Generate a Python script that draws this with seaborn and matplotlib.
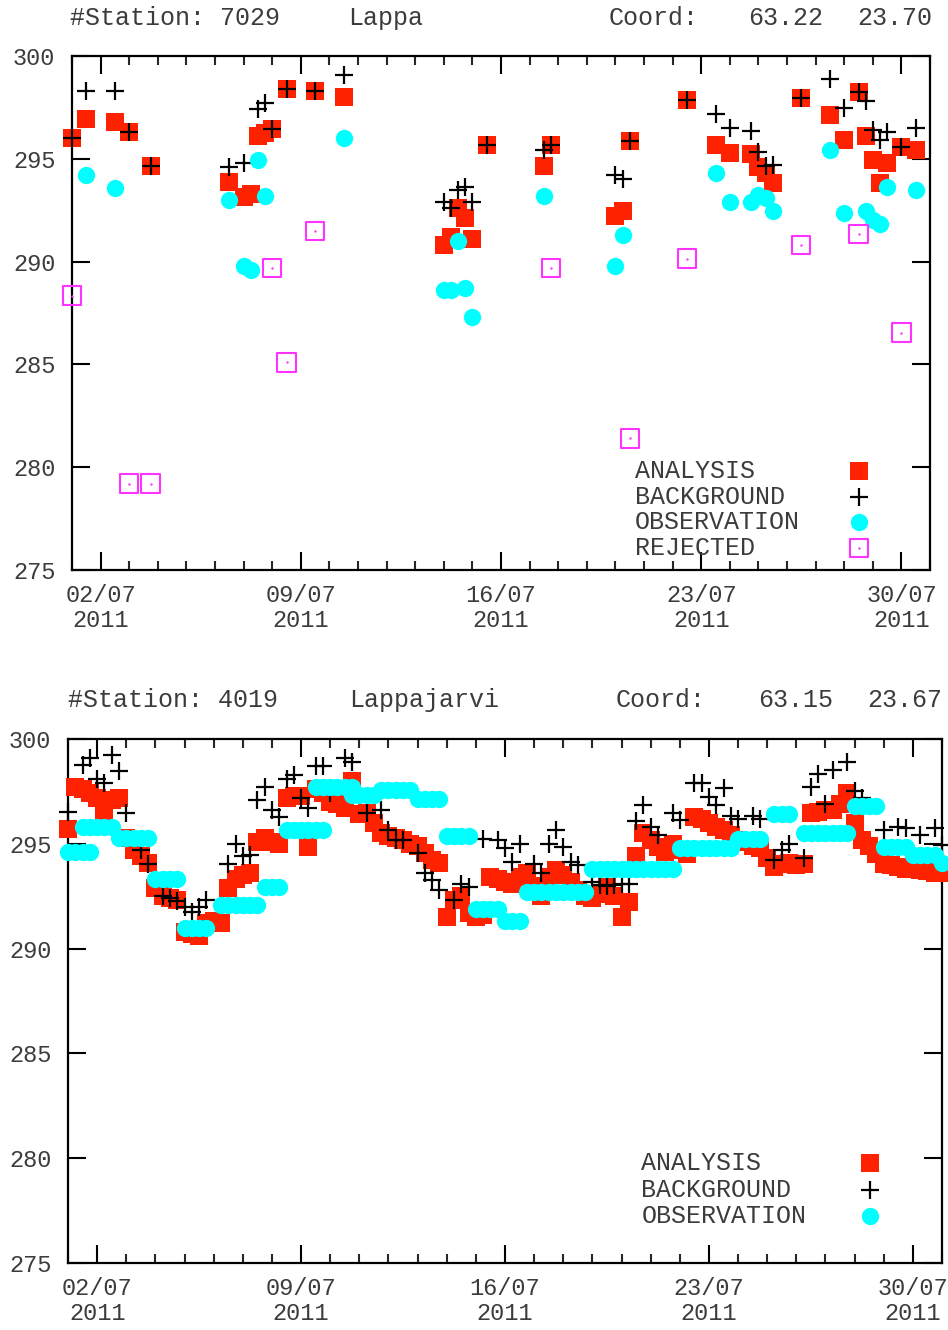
import numpy as np
import pandas as pd
import matplotlib
matplotlib.use("Agg")
import matplotlib.pyplot as plt
import matplotlib.dates as mdates
import seaborn as sns

# ---------------- data (hours since 2011-07-01 00:00, temperature K) -------------
top_ana_h = [0, 12, 36, 48, 66, 132, 144, 150, 156, 162, 168, 180, 204, 228,
             312, 318, 324, 330, 336, 348, 396, 402, 456, 462, 468, 516,
             540, 552, 570, 576, 582, 588, 612, 636, 648, 660, 666, 672, 678, 684, 696, 708]
top_ana_v = [296.0, 296.95, 296.8, 296.3, 294.65, 293.85, 293.15, 293.3, 296.1, 296.25, 296.45, 298.4, 298.3, 298.0,
             290.8, 291.2, 292.6, 292.1, 291.1, 295.65, 294.65, 295.65, 292.2, 292.45, 295.85, 297.85,
             295.65, 295.3, 295.25, 294.6, 294.3, 293.8, 297.95, 297.15, 295.9, 298.25, 296.1, 294.95, 293.8, 294.8, 295.55, 295.45]

top_bg_h = [0, 12, 36, 48, 66, 132, 144, 156, 162, 168, 180, 204, 228,
            312, 318, 324, 330, 336, 348, 396, 402, 456, 462, 468, 516,
            540, 552, 570, 576, 582, 588, 612, 636, 648, 660, 666, 672, 678, 684, 696, 708]
top_bg_v = [296.0, 298.3, 298.3, 296.3, 294.65, 294.6, 294.8, 297.4, 297.7, 296.45, 298.4, 298.3, 299.1,
            292.9, 292.6, 293.5, 293.65, 292.9, 295.65, 295.45, 295.65, 294.2, 294.0, 295.85, 297.85,
            297.2, 296.5, 296.35, 295.35, 294.65, 294.7, 297.95, 298.9, 297.45, 298.25, 297.8, 296.4, 295.9, 296.3, 295.55, 296.5]

top_obs_h = [12, 36, 132, 144, 150, 156, 162, 228, 312, 318, 324, 330, 336, 396, 456, 462,
             540, 552, 570, 576, 582, 588, 636, 648, 666, 672, 678, 684, 708]
top_obs_v = [294.2, 293.6, 293.0, 289.8, 289.6, 294.95, 293.2, 296.0, 288.6, 288.6, 291.0, 288.7, 287.3, 293.2, 289.8, 291.3,
             294.3, 292.9, 292.9, 293.25, 293.1, 292.45, 295.45, 292.35, 292.45, 292.0, 291.85, 293.65, 293.5]

top_rej_h = [0, 48, 66, 168, 180, 204, 402, 468, 516, 612, 660, 696]
top_rej_v = [288.35, 279.2, 279.2, 289.7, 285.1, 291.5, 289.7, 281.4, 290.15, 290.8, 291.35, 286.55]

bot_ana_h = list(range(0, 721, 6))
bot_ana_v = [295.7, 297.7, 297.6, 297.4, 297.2, 296.45, 297.1, 297.2,
             295.3, 294.7, 294.4, 294.1, 292.9, 292.5, 292.4, 292.3,
             290.8, 290.7, 290.6, 291.2, 291.3, 291.2, 292.9, 293.3,
             293.5, 293.6, 295.1, 295.3, 295.1, 295.0, 297.2, 297.3,
             297.3, 294.85, 297.6, 297.4, 297.0, 296.9, 296.7, 298.0,
             296.4, 296.45, 296.0, 295.5, 295.35, 295.3, 295.2, 295.0,
             294.9, 294.55, 294.25, 294.1, 291.5, 292.3, 292.5, 291.7,
             291.5, 291.6, 293.4, 293.3, 293.2, 293.1, 293.4, 293.6,
             293.0, 292.5, 293.4, 293.75, 293.5, 293.2, 292.8, 292.5,
             292.4, 292.6, 292.95, 292.5, 291.5, 292.2, 294.4, 295.5,
             295.2, 294.85, 294.6, 295.0, 294.7, 294.5, 296.3, 296.2,
             296.0, 295.8, 295.65, 295.4, 295.2, 295.1, 294.9, 294.8,
             294.3, 293.9, 294.05, 294.1, 294.0, 294.05, 296.45, 296.5,
             296.6, 296.6, 296.9, 297.4, 296.0, 295.2, 294.9, 294.5,
             294.05, 294.0, 293.9, 293.8, 293.9, 293.75, 293.7, 293.6, 293.6]

bot_bg_h = [0, 12, 18, 24, 30, 36, 42, 48, 60, 66, 78, 84, 90, 96, 102, 108, 114,
            132, 138, 144, 150, 156, 162, 168, 174, 180, 186, 192, 198, 204, 210, 216,
            228, 234, 246, 258, 264, 270, 276, 288, 294, 300, 306, 318, 324, 330,
            342, 354, 360, 366, 372, 384, 390, 396, 402, 408, 414, 420, 432, 438, 444,
            450, 456, 462, 468, 474, 480, 486, 498, 504, 516, 522, 528, 534, 540, 546,
            552, 564, 570, 582, 588, 594, 606, 612, 618, 624, 630, 642, 648, 654,
            672, 684, 690, 702, 714, 720]
bot_bg_v = [296.5, 298.75, 299.1, 298.1, 297.9, 299.25, 298.45, 296.45, 294.7, 294.05, 292.5, 292.4, 292.25, 292.0, 291.75, 292.0, 292.3,
            294.05, 295.0, 294.4, 294.45, 297.1, 297.7, 296.6, 296.3, 298.1, 298.3, 297.2, 296.7, 298.7, 298.7, 297.4,
            299.1, 298.9, 296.45, 296.6, 295.65, 295.2, 295.2, 294.55, 293.6, 293.25, 292.8, 292.3, 293.1, 292.95,
            295.25, 295.2, 294.8, 294.15, 295.0, 294.05, 293.6, 295.0, 295.65, 294.85, 294.15, 294.0, 293.2, 293.05, 293.0,
            293.05, 293.1, 293.1, 296.1, 296.85, 295.8, 295.4, 296.45, 296.15, 297.9, 297.9, 297.25, 296.85, 297.65, 296.35,
            296.2, 296.35, 296.2, 294.25, 294.7, 295.0, 294.3, 297.7, 298.35, 296.9, 298.5, 298.9, 297.5, 297.2,
            295.65, 295.8, 295.75, 295.4, 295.75, 294.95]

bot_obs_h = [0, 6, 12, 18,
             12, 18, 24, 30, 36,
             42, 48, 54, 60, 66,
             72, 78, 84, 90,
             96, 102, 108, 114,
             126, 132, 138, 144, 150, 156,
             162, 168, 174,
             180, 186, 192, 198, 204, 210,
             204, 210, 216, 222, 228, 234,
             234, 240, 246, 252,
             258, 264, 270, 276, 282,
             288, 294, 300, 306,
             312, 318, 324, 330,
             336, 342, 348, 354,
             360, 366, 372,
             378, 384, 390, 396, 402, 408, 414, 420, 426,
             432, 438, 444, 450, 456, 462, 468, 474, 480, 486, 492, 498,
             504, 510, 516, 522, 528, 534, 540, 546,
             552, 558, 564, 570,
             582, 588, 594,
             606, 612, 618, 624, 630, 636, 642,
             648, 654, 660, 666,
             672, 678, 684, 690,
             696, 702, 708, 714,
             720]
bot_obs_v = [294.6, 294.6, 294.6, 294.6,
             295.8, 295.8, 295.8, 295.8, 295.8,
             295.3, 295.3, 295.3, 295.3, 295.3,
             293.3, 293.3, 293.3, 293.3,
             291.0, 291.0, 291.0, 291.0,
             292.1, 292.1, 292.1, 292.1, 292.1, 292.1,
             292.95, 292.95, 292.95,
             295.65, 295.65, 295.65, 295.65, 295.65, 295.65,
             297.7, 297.7, 297.7, 297.7, 297.7, 297.7,
             297.35, 297.35, 297.35, 297.35,
             297.55, 297.55, 297.55, 297.55, 297.55,
             297.15, 297.15, 297.15, 297.15,
             295.35, 295.35, 295.35, 295.35,
             291.9, 291.9, 291.9, 291.9,
             291.3, 291.3, 291.3,
             292.7, 292.7, 292.7, 292.7, 292.7, 292.7, 292.7, 292.7, 292.7,
             293.8, 293.8, 293.8, 293.8, 293.8, 293.8, 293.8, 293.8, 293.8, 293.8, 293.8, 293.8,
             294.8, 294.8, 294.8, 294.8, 294.8, 294.8, 294.8, 294.8,
             295.25, 295.25, 295.25, 295.25,
             296.4, 296.4, 296.4,
             295.5, 295.5, 295.5, 295.5, 295.5, 295.5, 295.5,
             296.8, 296.8, 296.8, 296.8,
             294.85, 294.85, 294.85, 294.85,
             294.45, 294.45, 294.45, 294.45,
             294.1]

stations = [("#Station: 7029", "Lappa", "Coord:", "63.22", "23.70"),
            ("#Station: 4019", "Lappajarvi", "Coord:", "63.15", "23.67")]
legend_labels = ["ANALYSIS", "BACKGROUND", "OBSERVATION", "REJECTED"]
y_ticks = [275, 280, 285, 290, 295, 300]

# ---------------- style -------------
RED = "#ff2200"
CYAN = "#00ffff"
MAG = "#ff33ff"
TXT = "#3c3c3c"

sns.set_style("white")
plt.rcParams['font.family'] = ['Liberation Mono', 'DejaVu Sans Mono']

BASE = pd.Timestamp("2011-07-01")


def to_time(hours):
    return BASE + pd.to_timedelta(np.asarray(hours, dtype=float), unit="h")


fig = plt.figure(figsize=(9.48, 13.3), dpi=100)
W, H = 948.0, 1330.0
ax1 = fig.add_axes([72 / W, 1 - 570 / H, 858 / W, 514 / H])
ax2 = fig.add_axes([68 / W, 1 - 1263 / H, 874 / W, 524 / H])

S_SQ, S_CI, S_PL = 175, 155, 155


def draw(ax, ana_h, ana_v, bg_h, bg_v, obs_h, obs_v, rej_h=None, rej_v=None):
    sns.scatterplot(x=to_time(ana_h), y=ana_v, ax=ax, marker="s", s=S_SQ,
                    color=RED, linewidth=0, zorder=3, clip_on=False)
    sns.scatterplot(x=to_time(bg_h), y=bg_v, ax=ax, marker="+", s=S_PL,
                    color="black", linewidth=1.6, zorder=4, clip_on=False)
    sns.scatterplot(x=to_time(obs_h), y=obs_v, ax=ax, marker="o", s=S_CI,
                    color=CYAN, linewidth=0, zorder=5, clip_on=False)
    if rej_h is not None:
        sns.scatterplot(x=to_time(rej_h), y=rej_v, ax=ax, marker="s", s=S_SQ,
                        color=MAG, facecolor="none", edgecolor=MAG, linewidth=1.5,
                        zorder=6, clip_on=False)
        sns.scatterplot(x=to_time(rej_h), y=rej_v, ax=ax, marker="o", s=3,
                        color=MAG, linewidth=0, zorder=6, clip_on=False)


def style_axes(ax):
    ax.set_xlim(pd.Timestamp("2011-07-01"), pd.Timestamp("2011-07-31"))
    ax.set_ylim(275, 300)
    ax.set_yticks(y_ticks)
    ax.xaxis.set_major_locator(mdates.DayLocator(bymonthday=[2, 9, 16, 23, 30]))
    ax.xaxis.set_minor_locator(mdates.DayLocator())
    ax.xaxis.set_major_formatter(mdates.DateFormatter("%d/%m\n%Y"))
    ax.set_xlabel("")
    ax.set_ylabel("")
    for sp in ax.spines.values():
        sp.set_visible(True)
        sp.set_color("black")
        sp.set_linewidth(1.6)
    ax.tick_params(axis="both", which="major", direction="in", length=13, width=1.5,
                   top=True, right=True, bottom=True, left=True,
                   labelsize=17, labelcolor=TXT, color="black")
    ax.tick_params(axis="x", which="major", pad=10)
    ax.tick_params(axis="y", which="major", pad=12)
    ax.tick_params(axis="x", which="minor", direction="in", length=6.5, width=1.5,
                   top=True, bottom=True)
    for lab in ax.get_xticklabels():
        lab.set_linespacing(1.1)
    ax.grid(False)


draw(ax1, top_ana_h, top_ana_v, top_bg_h, top_bg_v, top_obs_h, top_obs_v, top_rej_h, top_rej_v)
draw(ax2, bot_ana_h, bot_ana_v, bot_bg_h, bot_bg_v, bot_obs_h, bot_obs_v)
style_axes(ax1)
style_axes(ax2)


def legend(ax, n, rows_y, x_text, x_mark):
    kinds = [dict(marker="s", s=S_SQ, color=RED, linewidths=0),
             dict(marker="+", s=S_PL, color="black", linewidths=1.6),
             dict(marker="o", s=S_CI, color=CYAN, linewidths=0),
             dict(marker="s", s=S_SQ, facecolors="none", edgecolors=MAG, linewidths=1.5)]
    for i in range(n):
        ax.text(x_text, rows_y[i], legend_labels[i], transform=ax.transAxes,
                ha="left", va="center", fontsize=18, color=TXT, zorder=10)
        ax.scatter([x_mark], [rows_y[i]], transform=ax.transAxes, clip_on=False,
                   zorder=10, **kinds[i])
        if i == 3:
            ax.scatter([x_mark], [rows_y[i]], transform=ax.transAxes, marker="o", s=3,
                       color=MAG, linewidths=0, zorder=10)


legend(ax1, 4, [0.193, 0.142, 0.093, 0.043], 0.656, 0.917)
legend(ax2, 3, [0.191, 0.139, 0.090], 0.656, 0.918)

# station headers
hdr_pos = [(18, [70, 348, 609, 748, 857]), (700, [68, 349, 616, 758, 867])]
for (yc, xs), texts in zip(hdr_pos, stations):
    for x, t in zip(xs, texts):
        fig.text(x / W, 1 - yc / H, t, ha="left", va="center", fontsize=18, color=TXT)

fig.savefig("out.png", dpi=100)
